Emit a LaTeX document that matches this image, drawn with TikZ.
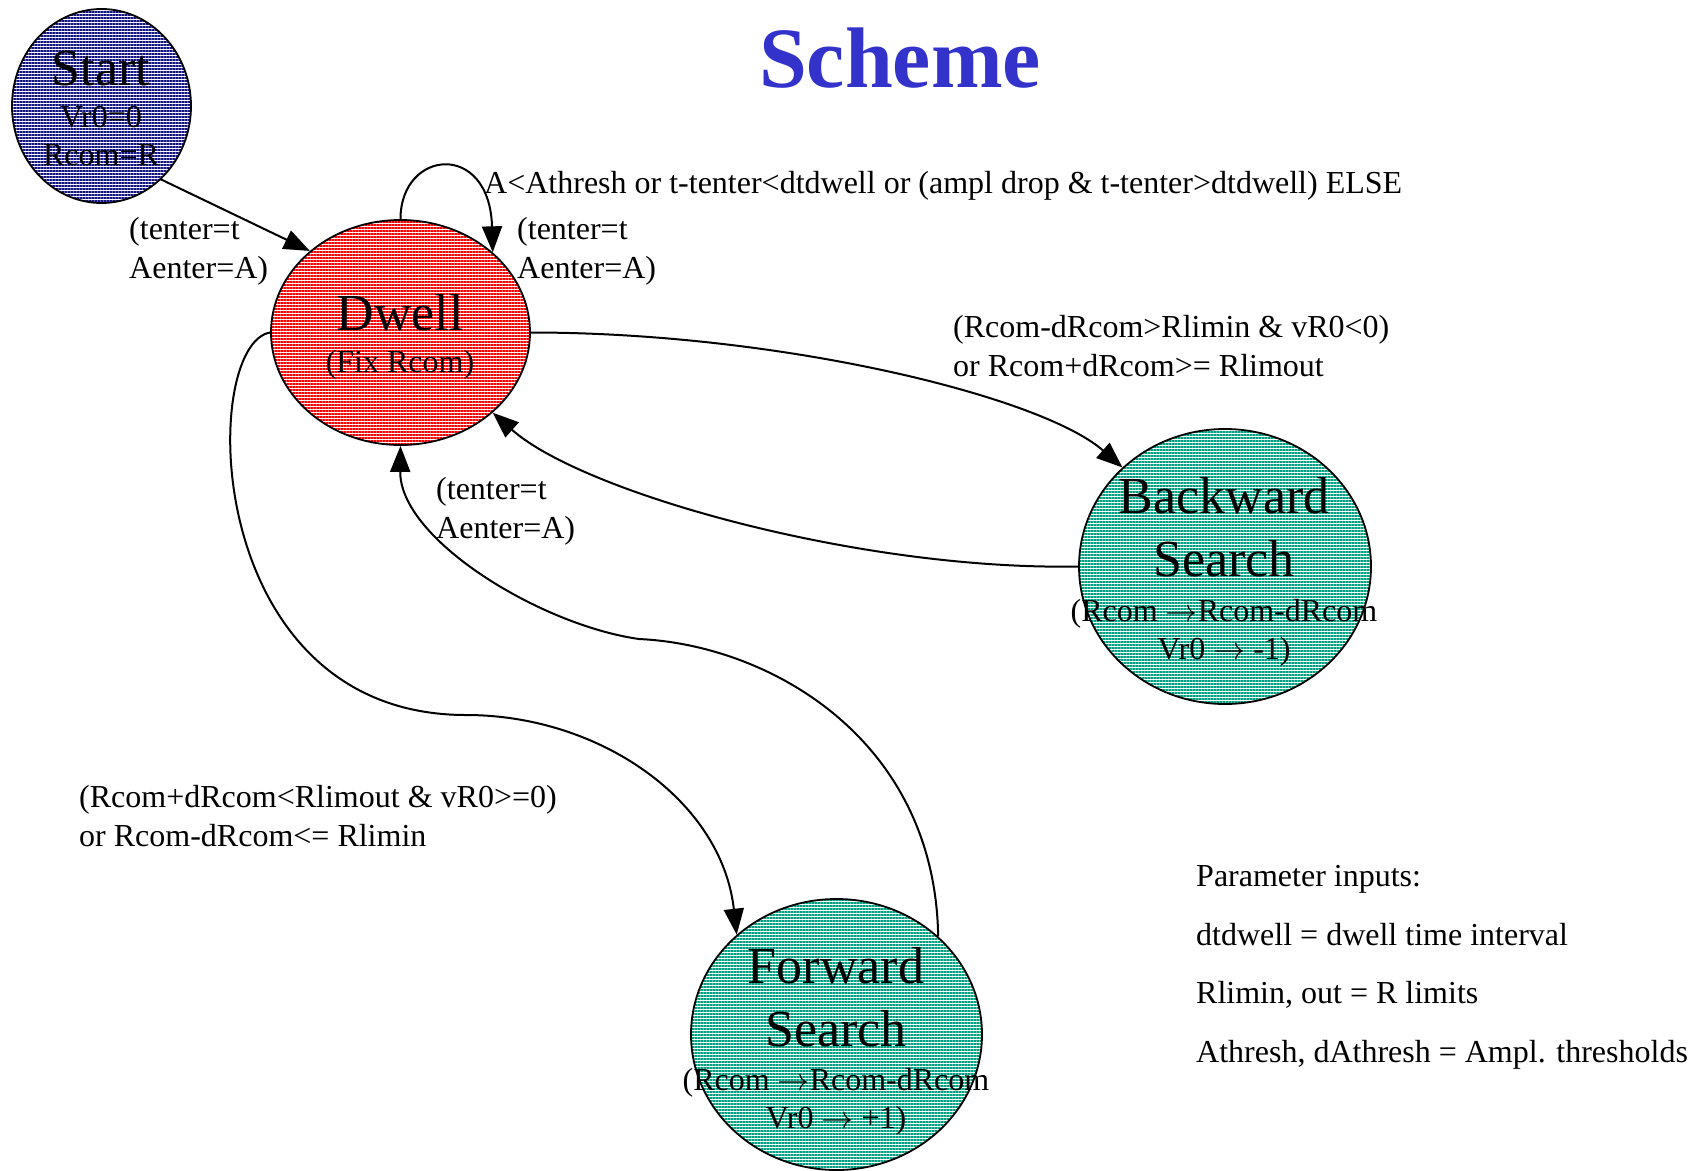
\RequirePackage{fix-cm}
\documentclass[tikz,border=0pt]{standalone}
\usepackage{fontspec}
\setmainfont{Liberation Serif}
\usepackage{tikz}
\usetikzlibrary{
  shapes.geometric,   % Ellipse states
  patterns.meta,      % Line hatching inside the states
  arrows.meta
}

\definecolor{titleblue}{RGB}{51,51,204}
\definecolor{startblue}{RGB}{20,20,130}
\definecolor{dwellred}{RGB}{255,0,0}
\definecolor{searchteal}{RGB}{0,160,128}

\begin{document}
\begin{tikzpicture}[x=1pt, y=-1pt,
    state/.style={ellipse, draw, line width=1.8pt, inner sep=0pt,
        pattern={Lines[angle=0, distance=3pt, line width=1.2pt]}},
    arr/.style={line width=2pt, -{Triangle[length=26pt, width=20pt]}},
    bigtxt/.style={font=\fontsize{52}{63}\selectfont, align=center, anchor=base},
    notetxt/.style={font=\fontsize{32}{38}\selectfont, align=center, anchor=base},
    lbl/.style={font=\fontsize{32}{39}\selectfont, align=left, anchor=base west, inner sep=0pt}]

    \useasboundingbox (0,0) rectangle (1699,1170);

    % Title
    \node[font=\fontsize{86}{86}\selectfont\bfseries, text=titleblue, anchor=base] (title) at (900,87) {Scheme};

    % States
    \node[state, pattern color=startblue, minimum width=179pt, minimum height=194pt] (start) at (101.5,106) {};
    \node[state, pattern color=dwellred, minimum width=259pt, minimum height=225pt] (dwell) at (400.5,332.5) {};
    \node[state, pattern color=searchteal, minimum width=292pt, minimum height=275pt] (back) at (1225,566.5) {};
    \node[state, pattern color=searchteal, minimum width=291pt, minimum height=271pt] (forward) at (836.5,1034.5) {};

    % State texts (base = last line)
    \node[bigtxt] (startname) at (101,85) {Start};
    \node[notetxt] (startnote) at (101,165) {Vr0=0\\Rcom=R};
    \node[bigtxt] (dwellname) at (400,330) {Dwell};
    \node[notetxt] (dwellnote) at (400,372) {(Fix Rcom)};
    \node[bigtxt] (backname) at (1224,576) {Backward\\Search};
    \node[notetxt] (backnote) at (1224,659) {(Rcom $\rightarrow$Rcom-dRcom\\Vr0 $\rightarrow$ -1)};
    \node[bigtxt] (fwdname) at (836,1046) {Forward\\Search};
    \node[notetxt] (fwdnote) at (836,1128) {(Rcom $\rightarrow$Rcom-dRcom\\Vr0 $\rightarrow$ +1)};

    % Transitions
    \draw[arr] (start.-51) -- (dwell.138);
    \draw[arr] (dwell.90) .. controls +(0,-70) and +(-3,-112) .. (dwell.41);
    \draw[arr] (dwell.east) .. controls +(250,0) and +(-81,-71) .. (back.136);
    \draw[arr] (back.west) .. controls +(-219,4) and +(90,80) .. (dwell.-41);
    \draw[arr] (dwell.west) .. controls +(-71,12) and (200,715) .. (466,715)
        .. controls (600,715) and +(-15,-134) .. (forward.135);
    \draw[arr] (forward.44) .. controls +(-3,-197) and (770,645) .. (639,639)
        .. controls (540,625) and +(-1,93) .. (dwell.south);

    % Transition conditions
    \node[lbl] (loopcond) at (484,193) {A<Athresh or t-tenter<dtdwell or (ampl drop \& t-tenter>dtdwell) ELSE};
    \node[lbl] (entera) at (129,278) {(tenter=t\\Aenter=A)};
    \node[lbl] (enterb) at (517,278) {(tenter=t\\Aenter=A)};
    \node[lbl] (enterc) at (436,538) {(tenter=t\\Aenter=A)};
    \node[lbl] (backcond) at (953,376) {(Rcom-dRcom>Rlimin \& vR0<0)\\or Rcom+dRcom>= Rlimout};
    \node[lbl] (fwdcond) at (79,846) {(Rcom+dRcom<Rlimout \& vR0>=0)\\or Rcom-dRcom<= Rlimin};

    % Parameter inputs
    \node[lbl, font=\fontsize{32}{58.5}\selectfont] (params) at (1196,1062)
        {Parameter inputs:\\dtdwell = dwell time interval\\Rlimin, out = R limits\\Athresh, dAthresh = Ampl. thresholds};
\end{tikzpicture}
\end{document}
